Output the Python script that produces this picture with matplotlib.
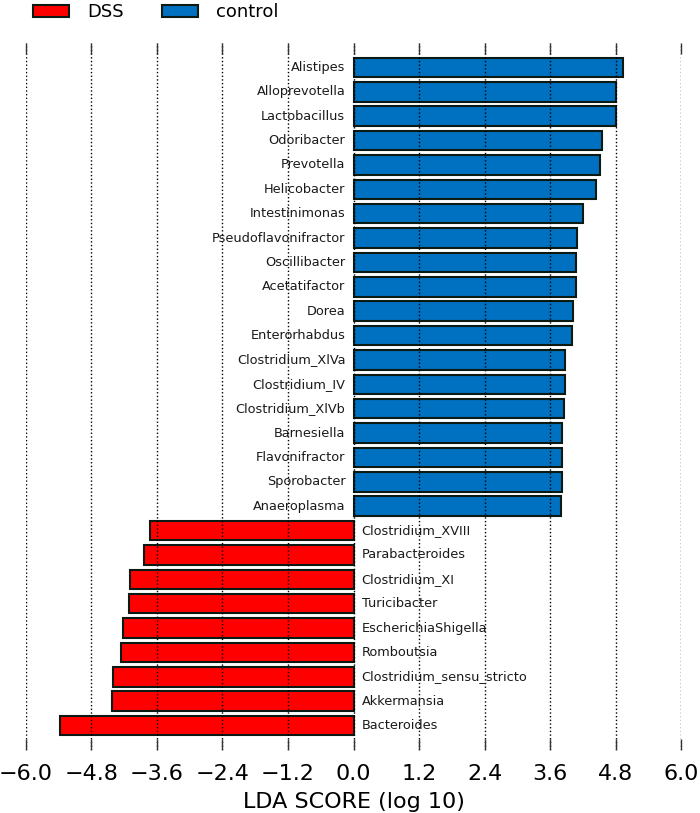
import matplotlib
matplotlib.use("Agg")
import matplotlib.pyplot as plt
from matplotlib.patches import Patch

# LEfSe LDA scores (top to bottom)
control_taxa = ['Alistipes', 'Alloprevotella', 'Lactobacillus', 'Odoribacter',
                'Prevotella', 'Helicobacter', 'Intestinimonas', 'Pseudoflavonifractor',
                'Oscillibacter', 'Acetatifactor', 'Dorea', 'Enterorhabdus',
                'Clostridium_XlVa', 'Clostridium_IV', 'Clostridium_XlVb', 'Barnesiella',
                'Flavonifractor', 'Sporobacter', 'Anaeroplasma']
control_lda = [4.93, 4.80, 4.80, 4.56, 4.51, 4.45, 4.21, 4.10,
               4.08, 4.08, 4.02, 4.00, 3.88, 3.87, 3.85, 3.81,
               3.81, 3.81, 3.80]

dss_taxa = ['Clostridium_XVIII', 'Parabacteroides', 'Clostridium_XI', 'Turicibacter',
            'EscherichiaShigella', 'Romboutsia', 'Clostridium_sensu_stricto',
            'Akkermansia', 'Bacteroides']
dss_lda = [-3.73, -3.83, -4.09, -4.11, -4.22, -4.25, -4.40, -4.42, -5.38]

xticks = [-6.0, -4.8, -3.6, -2.4, -1.2, 0.0, 1.2, 2.4, 3.6, 4.8, 6.0]

DSS_COLOR = '#ff0000'
CTRL_COLOR = '#0070c0'

fig = plt.figure(figsize=(7.0, 8.13), dpi=100)
ax = fig.add_axes([0.037, 0.0775, 0.936, 0.8695])

taxa = control_taxa + dss_taxa
scores = control_lda + dss_lda
colors = [CTRL_COLOR] * len(control_taxa) + [DSS_COLOR] * len(dss_taxa)
n = len(taxa)
ypos = [n - 1 - i for i in range(n)]

ax.barh(ypos, scores, height=0.8, color=colors, edgecolor='#0b1a12', linewidth=1.5)

for y, name, s in zip(ypos, taxa, scores):
    if s > 0:
        ax.text(-0.15, y, name, ha='right', va='center', fontsize=9.3, color='#1a1a1a')
    else:
        ax.text(0.15, y, name, ha='left', va='center', fontsize=9.3, color='#1a1a1a')

ax.set_xlim(-6.0, 6.0)
ax.set_ylim(-1.0, n)
ax.set_xticks(xticks)
ax.set_xticklabels([f'{t:.1f}'.replace('-', '\u2212') for t in xticks], fontsize=16)
ax.set_yticks([])
ax.tick_params(axis='x', direction='in', length=8, width=1, top=True, bottom=True,
               pad=10, color='#333333')
for sp in ax.spines.values():
    sp.set_visible(False)
ax.grid(axis='x', linestyle=':', color='black', linewidth=1)
ax.set_xlabel('LDA SCORE (log 10)', fontsize=16, labelpad=6)

handles = [Patch(facecolor=DSS_COLOR, edgecolor='#0b1a12', linewidth=1.5, label='DSS'),
           Patch(facecolor=CTRL_COLOR, edgecolor='#0b1a12', linewidth=1.5, label='control')]
fig.legend(handles=handles, loc='upper left', bbox_to_anchor=(0.024, 1.016), ncol=2,
           frameon=False, fontsize=13, handlelength=2.0, handletextpad=1.0,
           columnspacing=2.1)

fig.savefig('out.png', dpi=100)
